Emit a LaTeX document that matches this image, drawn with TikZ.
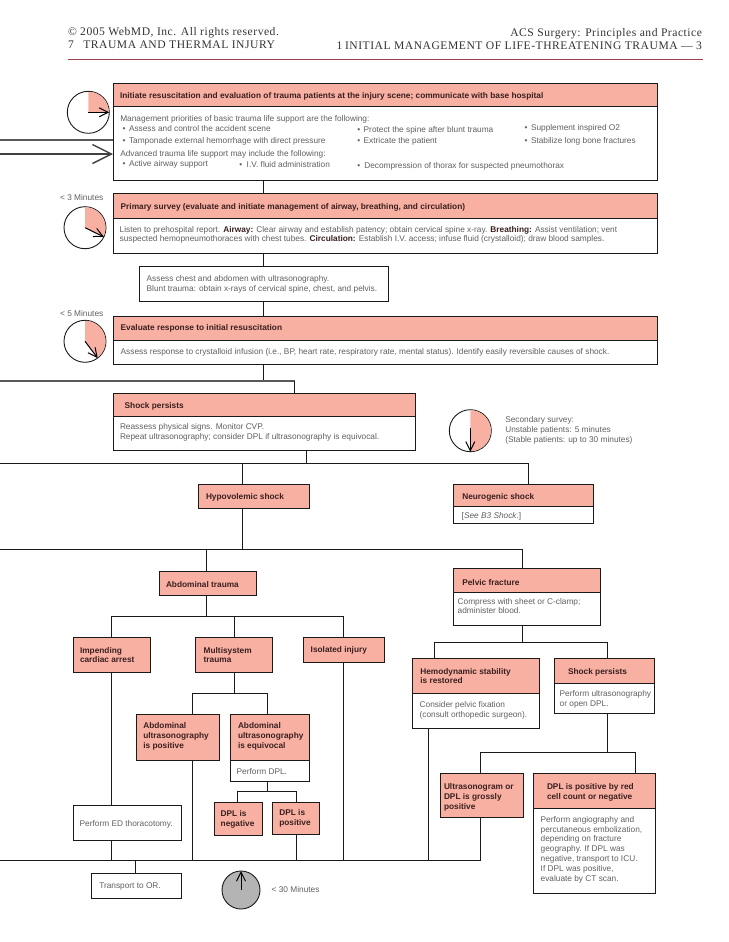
\documentclass[tikz,border=0pt]{standalone}
\usepackage{fontspec}
\usetikzlibrary{arrows.meta}
\setmainfont{Liberation Sans}
\newfontfamily\hdfont[LetterSpace=4.5]{Liberation Serif}
\definecolor{pinkc}{HTML}{F8B0A2}
\definecolor{linec}{HTML}{1A1A1A}
\definecolor{bodyc}{HTML}{606060}
\definecolor{headc}{HTML}{3A2020}
\definecolor{rulec}{HTML}{A04050}
\definecolor{clockg}{HTML}{B4B4B4}
\tikzset{
  pinkbox/.style={draw=linec,fill=pinkc,line width=0.9pt,inner sep=0pt,outer sep=0pt},
  whitebox/.style={draw=linec,fill=white,line width=0.9pt,inner sep=0pt,outer sep=0pt},
  conn/.style={draw=linec,line width=0.9pt},
  busgray/.style={draw=black!65,line width=1.5pt},
  busdark/.style={draw=black!75,line width=1.4pt},
  bodytext/.style={inner sep=0pt,outer sep=0pt,anchor=base west,text=bodyc,font=\fontsize{8.3}{10}\selectfont},
  headtext/.style={inner sep=0pt,outer sep=0pt,anchor=base west,text=headc,font=\fontsize{8.3}{10}\selectfont\bfseries},
  toptext/.style={inner sep=0pt,outer sep=0pt,anchor=base west,text=black!80,font=\fontsize{11.6}{14}\hdfont},
  toptextr/.style={toptext,anchor=base east},
  clockface/.style={circle,draw=linec,line width=0.9pt,inner sep=0pt,outer sep=0pt,minimum size=42pt},
  clockhand/.style={draw=black,line width=1pt,-{Straight Barb[length=9pt,width=9pt]}},
  bighand/.style={busdark,-{Straight Barb[length=19pt,width=19pt]}}
}
\newcommand\flowbox[6]{%
  \pgfmathsetmacro\bxw{#5-#3}\pgfmathsetmacro\bxh{#6-#4}%
  \node[#1,anchor=north west,minimum width=\bxw pt,minimum height=\bxh pt] (#2) at (#3,#4) {};}
\newcommand\flowtext[5]{\node[#1] (#2) at (#3,#4) {#5};}
\newcommand\bodyl[4]{\flowtext{bodytext}{#1}{#2}{#3}{#4}}
\newcommand\headl[4]{\flowtext{headtext}{#1}{#2}{#3}{#4}}
\begin{document}
\begin{tikzpicture}[x=1pt,y=-1pt]
\useasboundingbox (0,0) rectangle (728,942);
% page header
\flowtext{toptext}{ha}{68}{35.5}{© 2005 WebMD, Inc. All rights reserved.}
\flowtext{toptext}{hb}{68}{48.5}{7}
\flowtext{toptext}{hc}{83.3}{48.5}{TRAUMA AND THERMAL INJURY}
\flowtext{toptextr}{hd}{702}{36.5}{ACS Surgery: Principles and Practice}
\flowtext{toptext}{he}{336.7}{49.5}{1}
\flowtext{toptextr}{hf}{702}{49.5}{INITIAL MANAGEMENT OF LIFE-THREATENING TRAUMA — 3}
\coordinate (ruleL) at (68,59);
\coordinate (ruleR) at (703,59);
\draw[rulec,line width=0.8pt] (ruleL) -- (ruleR);
% boxes
\flowbox{whitebox}{b1b}{113}{106.7}{657.3}{180.3}
\flowbox{pinkbox}{b1h}{113}{83}{657.3}{106.7}
\flowbox{whitebox}{b2b}{113}{218.3}{657.3}{253.3}
\flowbox{pinkbox}{b2h}{113}{193.3}{657.3}{218.3}
\flowbox{whitebox}{b3}{139.3}{266.3}{388.7}{301.3}
\flowbox{whitebox}{b4b}{113}{340.3}{657.3}{364.3}
\flowbox{pinkbox}{b4h}{113}{316.3}{657.3}{340.3}
\flowbox{whitebox}{b5b}{113.3}{416.3}{415.3}{450.3}
\flowbox{pinkbox}{b5h}{113.3}{393.3}{415.3}{416.3}
\flowbox{pinkbox}{hypo}{198.3}{484.3}{309.7}{508.3}
\flowbox{whitebox}{neub}{453.3}{506.3}{593.7}{523.3}
\flowbox{pinkbox}{neuh}{453.3}{484.3}{593.7}{506.3}
\flowbox{pinkbox}{abd}{159.3}{571.3}{256.7}{595.3}
\flowbox{whitebox}{pelb}{453.3}{592.3}{600.7}{625.3}
\flowbox{pinkbox}{pelh}{453.3}{568.3}{600.7}{592.3}
\flowbox{pinkbox}{imp}{73.3}{637}{150.3}{672.3}
\flowbox{pinkbox}{mul}{195.3}{637}{272.3}{672.3}
\flowbox{pinkbox}{iso}{303.3}{637}{384.3}{662.3}
\flowbox{pinkbox}{apos}{136.3}{714.3}{219.7}{760.3}
\flowbox{whitebox}{aeqb}{230.3}{760.3}{309.7}{781.3}
\flowbox{pinkbox}{aeqh}{230.3}{714.3}{309.7}{760.3}
\flowbox{pinkbox}{dneg}{214.3}{802.3}{262.7}{835.3}
\flowbox{pinkbox}{dpos}{272.3}{802.3}{319.7}{834.3}
\flowbox{whitebox}{ed}{73.3}{805.3}{181.7}{840.3}
\flowbox{whitebox}{tor}{91.3}{873.3}{181.7}{898.3}
\flowbox{whitebox}{hemb}{412.3}{693.3}{539.3}{728.3}
\flowbox{pinkbox}{hemh}{412.3}{658.3}{539.3}{693.3}
\flowbox{whitebox}{sp2b}{554.3}{683.3}{654.7}{713.3}
\flowbox{pinkbox}{sp2h}{554.3}{658.3}{654.7}{683.3}
\flowbox{pinkbox}{ugm}{440.3}{773.3}{523.3}{817.3}
\flowbox{whitebox}{dplb}{533.3}{808.3}{655.7}{893.3}
\flowbox{pinkbox}{dplh}{533.3}{773.3}{655.7}{808.3}
% routing guides
\coordinate (xa) at (263.5,0);
\coordinate (xb) at (294.5,0);
\coordinate (xc) at (306.3,0);
\coordinate (xd) at (242.3,0);
\coordinate (xe) at (528.3,0);
\coordinate (xf) at (522.3,0);
\coordinate (xg) at (206.3,0);
\coordinate (xh) at (111.3,0);
\coordinate (xi) at (234.3,0);
\coordinate (xj) at (343.3,0);
\coordinate (xk) at (192.3,0);
\coordinate (xl) at (267.3,0);
\coordinate (xm) at (237.3,0);
\coordinate (xn) at (296.3,0);
\coordinate (xo) at (135.3,0);
\coordinate (xp) at (428.3,0);
\coordinate (xq) at (480.3,0);
\coordinate (xr) at (434.3,0);
\coordinate (xs) at (607.3,0);
\coordinate (xt) at (635.3,0);
\coordinate (ya) at (0,140);
\coordinate (yb) at (0,154);
\coordinate (yc) at (0,381);
\coordinate (yd) at (0,463.3);
\coordinate (ye) at (0,549.3);
\coordinate (yf) at (0,616.3);
\coordinate (yg) at (0,642.3);
\coordinate (yh) at (0,693.3);
\coordinate (yi) at (0,752.3);
\coordinate (yj) at (0,791.3);
\coordinate (yk) at (0,860.3);
% connectors
\draw[busgray] (ya) -- (ya -| b1b.west);
\draw[bighand] (yb) -- (yb -| b1b.west);
\draw[conn] (b1b.south -| xa) -- (b2h.north -| xa);
\draw[conn] (b2b.south -| xa) -- (b3.north -| xa);
\draw[conn] (b3.south -| xa) -- (b4h.north -| xa);
\draw[conn] (b4b.south -| xa) -- (yc -| xa);
\draw[busgray] (yc) -- (yc -| xb);
\draw[conn] (yc -| xb) -- (b5h.north -| xb);
\draw[conn] (b5b.south -| xc) -- (yd -| xc);
\draw[conn] (yd) -- (yd -| xe) -- (neuh.north -| xe);
\draw[conn] (yd -| xd) -- (hypo.north -| xd);
\draw[conn] (hypo.south -| xd) -- (ye -| xd);
\draw[conn] (ye) -- (ye -| xf) -- (pelh.north -| xf);
\draw[conn] (ye -| xg) -- (abd.north -| xg);
\draw[conn] (abd.south -| xg) -- (yf -| xg);
\draw[conn] (imp.north -| xh) -- (yf -| xh) -- (yf -| xj) -- (iso.north -| xj);
\draw[conn] (yf -| xi) -- (mul.north -| xi);
\draw[conn] (imp.south -| xh) -- (ed.north -| xh);
\draw[conn] (ed.south -| xh) -- (yk -| xh);
\draw[conn] (mul.south -| xi) -- (yh -| xi);
\draw[conn] (apos.north -| xk) -- (yh -| xk) -- (yh -| xl) -- (aeqh.north -| xl);
\draw[conn] (apos.south -| xk) -- (yk -| xk);
\draw[conn] (aeqb.south -| xl) -- (yj -| xl);
\draw[conn] (dneg.north -| xm) -- (yj -| xm) -- (yj -| xn) -- (dpos.north -| xn);
\draw[conn] (dpos.south -| xn) -- (yk -| xn);
\draw[conn] (iso.south -| xj) -- (yk -| xj);
\draw[conn] (yk) -- (yk -| xq) -- (ugm.south -| xq);
\draw[conn] (hemb.south -| xp) -- (yk -| xp);
\draw[conn] (yk -| xo) -- (tor.north -| xo);
\draw[conn] (pelb.south -| xf) -- (yg -| xf);
\draw[conn] (hemh.north -| xr) -- (yg -| xr) -- (yg -| xs) -- (sp2h.north -| xs);
\draw[conn] (sp2b.south -| xs) -- (yi -| xs);
\draw[conn] (ugm.north -| xq) -- (yi -| xq) -- (yi -| xt) -- (dplh.north -| xt);
% clocks
\node[clockface] (c1) at (88.3,112.3) {};
\fill[pinkc] (c1.center) -- plot[domain=90:0,samples=30] ({88.3+20.5*cos(\x)},{112.3-20.5*sin(\x)}) -- cycle;
\draw[clockhand] (c1.center) -- (c1.0);
\node[clockface] (c2) at (85,227.7) {};
\fill[pinkc] (c2.center) -- plot[domain=90:-26,samples=30] ({85+20.5*cos(\x)},{227.7-20.5*sin(\x)}) -- cycle;
\draw[clockhand] (c2.center) -- (c2.-26);
\node[clockface] (c3) at (85,341.3) {};
\fill[pinkc] (c3.center) -- plot[domain=90:-53,samples=30] ({85+20.5*cos(\x)},{341.3-20.5*sin(\x)}) -- cycle;
\draw[clockhand] (c3.center) -- (c3.-53);
\node[clockface] (c4) at (470.3,430.7) {};
\fill[pinkc] (c4.center) -- plot[domain=90:-90,samples=40] ({470.3+20.5*cos(\x)},{430.7-20.5*sin(\x)}) -- cycle;
\coordinate (c4s) at (470.3,428);
\draw[clockhand] (c4s) -- (c4.south);
\node[clockface,fill=clockg,minimum size=38pt] (c5) at (241,890) {};
\draw[clockhand] (c5.center) -- (c5.north);
% text
\node[bodytext,anchor=base east] (m3) at (103.3,200) {< 3 Minutes};
\node[bodytext,anchor=base east] (m5) at (103.3,316) {< 5 Minutes};
\bodyl{m30}{271.7}{892}{< 30 Minutes}
\bodyl{s1}{505.3}{422}{Secondary survey:}
\bodyl{s2}{505.3}{432}{Unstable patients: 5 minutes}
\bodyl{s3}{505.3}{442}{(Stable patients: up to 30 minutes)}
\headl{t1}{120}{98}{Initiate resuscitation and evaluation of trauma patients at the injury scene; communicate with base hospital}
\bodyl{t2}{120.3}{121}{Management priorities of basic trauma life support are the following:}
\bodyl{p1}{122.7}{131}{•}
\bodyl{t3}{129}{131}{Assess and control the accident scene}
\bodyl{p2}{122.7}{143}{•}
\bodyl{t4}{129}{143}{Tamponade external hemorrhage with direct pressure}
\bodyl{t5}{120.3}{156}{Advanced trauma life support may include the following:}
\bodyl{p3}{122.7}{166.5}{•}
\bodyl{t6}{129}{166.5}{Active airway support}
\bodyl{p4}{239.3}{167}{•}
\bodyl{t7}{246.7}{167}{I.V. fluid administration}
\bodyl{p5}{357.3}{132}{•}
\bodyl{t8}{363.7}{132}{Protect the spine after blunt trauma}
\bodyl{p6}{357.3}{143.5}{•}
\bodyl{t9}{363.7}{143.5}{Extricate the patient}
\bodyl{p7}{357.3}{168}{•}
\bodyl{t10}{364.3}{168}{Decompression of thorax for suspected pneumothorax}
\bodyl{p8}{524.7}{130}{•}
\bodyl{t11}{531}{130}{Supplement inspired O\raisebox{-0.6pt}{2}}
\bodyl{p9}{524.7}{143}{•}
\bodyl{t12}{531}{143}{Stabilize long bone fractures}
\headl{t13}{120.7}{209}{Primary survey (evaluate and initiate management of airway, breathing, and circulation)}
\bodyl{t14}{119.7}{232}{Listen to prehospital report. \textbf{\color{headc}Airway:} Clear airway and establish patency; obtain cervical spine x-ray. \textbf{\color{headc}Breathing:} Assist ventilation; vent}
\bodyl{t15}{119.7}{241}{suspected hemopneumothoraces with chest tubes. \textbf{\color{headc}Circulation:} Establish I.V. access; infuse fluid (crystalloid); draw blood samples.}
\bodyl{t16}{146.7}{281}{Assess chest and abdomen with ultrasonography.}
\bodyl{t17}{146.7}{291}{Blunt trauma: obtain x-rays of cervical spine, chest, and pelvis.}
\headl{t18}{120.7}{330}{Evaluate response to initial resuscitation}
\bodyl{t19}{120.7}{354}{Assess response to crystalloid infusion (i.e., BP, heart rate, respiratory rate, mental status). Identify easily reversible causes of shock.}
\headl{t20}{124.7}{408}{Shock persists}
\bodyl{t21}{120}{429}{Reassess physical signs. Monitor CVP.}
\bodyl{t22}{120}{439}{Repeat ultrasonography; consider DPL if ultrasonography is equivocal.}
\headl{t23}{206}{499}{Hypovolemic shock}
\headl{t24}{462.3}{499}{Neurogenic shock}
\bodyl{t25}{461.7}{518}{[\textit{See  B3 Shock.}]}
\headl{t26}{166}{587}{Abdominal trauma}
\headl{t27}{462.3}{585}{Pelvic fracture}
\bodyl{t28}{457.7}{604}{Compress with sheet or C-clamp;}
\bodyl{t29}{457.7}{613}{administer blood.}
\headl{t30}{80}{653}{Impending}
\headl{t31}{80}{662}{cardiac arrest}
\headl{t32}{203.7}{653}{Multisystem}
\headl{t33}{203.7}{662}{trauma}
\headl{t34}{310.7}{652}{Isolated injury}
\headl{t35}{143.3}{728}{Abdominal}
\headl{t36}{143.3}{738}{ultrasonography}
\headl{t37}{143.3}{748}{is positive}
\headl{t38}{238}{728}{Abdominal}
\headl{t39}{238}{738}{ultrasonography}
\headl{t40}{238}{748}{is equivocal}
\bodyl{t41}{236.7}{774}{Perform DPL.}
\headl{t42}{220.7}{816}{DPL is}
\headl{t43}{220.7}{826}{negative}
\headl{t44}{279.3}{815}{DPL is}
\headl{t45}{279.3}{825}{positive}
\bodyl{t46}{79.7}{826}{Perform ED thoracotomy.}
\bodyl{t47}{99.3}{888}{Transport to OR.}
\headl{t48}{420.3}{674}{Hemodynamic stability}
\headl{t49}{420.3}{683}{is restored}
\bodyl{t50}{419.7}{707}{Consider pelvic fixation}
\bodyl{t51}{419.7}{717}{(consult orthopedic surgeon).}
\headl{t52}{568}{674}{Shock persists}
\bodyl{t53}{559.7}{696}{Perform ultrasonography}
\bodyl{t54}{559.7}{706}{or open DPL.}
\headl{t55}{444}{789}{Ultrasonogram or}
\headl{t56}{444}{799}{DPL is grossly}
\headl{t57}{444}{809}{positive}
\headl{t58}{547}{789}{DPL is positive by red}
\headl{t59}{547}{799}{cell count or negative}
\bodyl{t60}{540.7}{822}{Perform angiography and}
\bodyl{t61}{540.7}{832}{percutaneous embolization,}
\bodyl{t62}{540.7}{841}{depending on fracture}
\bodyl{t63}{540.7}{851}{geography. If DPL was}
\bodyl{t64}{540.7}{861}{negative, transport to ICU.}
\bodyl{t65}{540.7}{871}{If DPL was positive,}
\bodyl{t66}{540.7}{881}{evaluate by CT scan.}
\end{tikzpicture}
\end{document}
